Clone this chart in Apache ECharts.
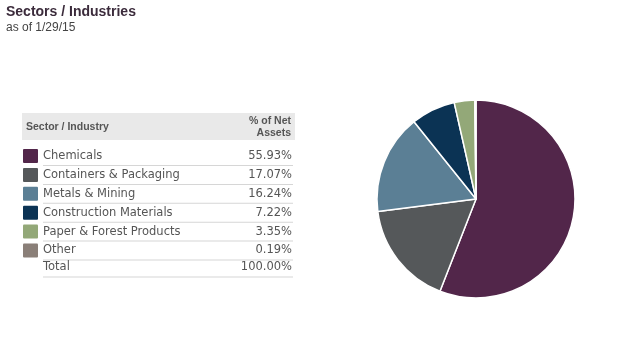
<!DOCTYPE html>
<html>
<head>
<meta charset="utf-8">
<script src="https://cdn.jsdelivr.net/npm/echarts@6/dist/echarts.min.js"></script>
<style>
  html, body { margin: 0; padding: 0; background: #fff; }
  #chart { width: 640px; height: 353px; }
</style>
</head>
<body>
<div id="chart"></div>
<script>
(function() {
  var sectors = ['Chemicals', 'Containers & Packaging', 'Metals & Mining', 'Construction Materials', 'Paper & Forest Products', 'Other'];
  var weights = [55.93, 17.07, 16.24, 7.22, 3.35, 0.19];
  var colors = ['#52264a', '#55585a', '#5b7f95', '#0b3354', '#93a878', '#8a7f78'];
  var totalLabel = '100.00%';

  var textFont = '"DejaVu Sans", Verdana, sans-serif';
  var headFont = 'bold 10.5px Arial, "Liberation Sans", sans-serif';
  var rowTop = 156, rowStep = 18.9;

  var chart = echarts.init(document.getElementById('chart'), null, { renderer: 'canvas' });

  var graphics = [
    // header band
    { type: 'rect', shape: { x: 22, y: 113, width: 273, height: 27 }, style: { fill: '#e9e9e9' } },
    { type: 'text', x: 26, y: 127, style: { text: 'Sector / Industry', fill: '#555', font: headFont, verticalAlign: 'middle' } },
    { type: 'text', x: 291, y: 121, style: { text: '% of Net', fill: '#555', font: headFont, align: 'right', verticalAlign: 'middle' } },
    { type: 'text', x: 291, y: 133, style: { text: 'Assets', fill: '#555', font: headFont, align: 'right', verticalAlign: 'middle' } }
  ];

  sectors.forEach(function(name, i) {
    var cy = rowTop + i * rowStep;
    graphics.push(
      { type: 'rect', shape: { x: 23, y: cy - 7, width: 15, height: 14, r: 1 }, style: { fill: colors[i] } },
      { type: 'text', x: 43, y: cy, style: { text: name, fill: '#555', font: '11.5px ' + textFont, verticalAlign: 'middle' } },
      { type: 'text', x: 292, y: cy, style: { text: weights[i].toFixed(2) + '%', fill: '#555', font: '11.5px ' + textFont, align: 'right', verticalAlign: 'middle' } },
      { type: 'rect', shape: { x: 43, y: cy + 9, width: 250, height: 1 }, style: { fill: '#d6d6d6' } }
    );
  });
  var ty = rowTop + sectors.length * rowStep - 2;
  graphics.push(
    { type: 'text', x: 43, y: ty, style: { text: 'Total', fill: '#555', font: '11.5px ' + textFont, verticalAlign: 'middle' } },
    { type: 'text', x: 292, y: ty, style: { text: totalLabel, fill: '#555', font: '11.5px ' + textFont, align: 'right', verticalAlign: 'middle' } },
    { type: 'rect', shape: { x: 43, y: ty + 9, width: 250, height: 1 }, style: { fill: '#d6d6d6' } }
  );

  chart.setOption({
    backgroundColor: '#fff',
    animation: false,
    title: {
      text: 'Sectors / Industries',
      subtext: 'as of 1/29/15',
      left: 1,
      top: 0,
      itemGap: 3,
      textStyle: { color: '#3b2b3b', fontSize: 14, fontWeight: 'bold', fontFamily: 'Arial, "Liberation Sans", sans-serif' },
      subtextStyle: { color: '#444', fontSize: 12, fontFamily: 'Arial, "Liberation Sans", sans-serif' }
    },
    graphic: graphics,
    series: [{
      type: 'pie',
      center: [476, 199],
      radius: [0, 99],
      startAngle: 90,
      clockwise: true,
      label: { show: false },
      labelLine: { show: false },
      emphasis: { disabled: true },
      itemStyle: { borderColor: '#fff', borderWidth: 1.5 },
      data: sectors.map(function(name, i) {
        return { name: name, value: weights[i], itemStyle: { color: colors[i] } };
      })
    }]
  });

  window.addEventListener('resize', function() { chart.resize(); });
})();
</script>
</body>
</html>
